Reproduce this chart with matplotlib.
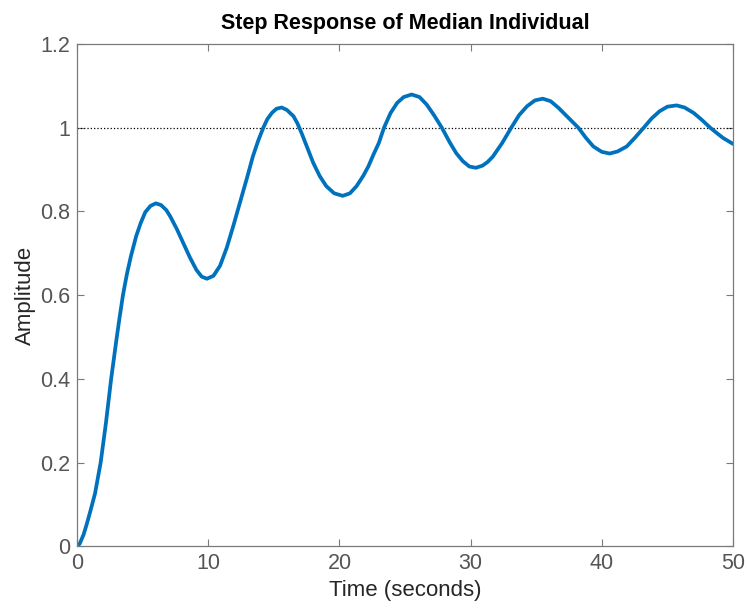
import matplotlib
matplotlib.use("Agg")
import matplotlib.pyplot as plt

# values (time in s, amplitude)
t = [0.0, 0.2, 0.5, 0.75, 1.05, 1.37, 1.8, 2.2, 2.6, 3.0, 3.25, 3.5, 3.8,
     4.1, 4.5, 4.85, 5.2, 5.6, 6.0, 6.4, 6.8, 7.1, 7.6, 8.1, 8.6, 9.1, 9.5,
     9.9, 10.4, 10.9, 11.4, 11.9, 12.3, 12.7, 13.0, 13.4, 13.8, 14.2, 14.5,
     14.85, 15.2, 15.6, 16.0, 16.5, 16.8, 17.1, 17.5, 18.0, 18.5, 19.0, 19.6,
     20.25, 20.8, 21.3, 21.8, 22.2, 22.6, 23.0, 23.4, 23.9, 24.4, 24.9, 25.5,
     26.1, 26.65, 27.2, 27.8, 28.4, 28.9, 29.4, 29.9, 30.4, 30.9, 31.3, 31.7,
     32.4, 33.1, 33.7, 34.3, 34.9, 35.5, 36.1, 36.7, 37.4, 38.2, 38.8, 39.35,
     40.0, 40.6, 41.2, 41.9, 42.5, 43.2, 43.8, 44.4, 45.0, 45.7, 46.3, 47.0,
     47.6, 48.25, 48.8, 49.25, 50.0]
amp = [0.0, 0.006, 0.028, 0.054, 0.088, 0.126, 0.2, 0.294, 0.4, 0.493, 0.548,
       0.6, 0.65, 0.692, 0.74, 0.772, 0.798, 0.813, 0.819, 0.815, 0.803,
       0.788, 0.758, 0.724, 0.69, 0.66, 0.644, 0.639, 0.646, 0.67, 0.712,
       0.764, 0.808, 0.852, 0.885, 0.931, 0.968, 1.0, 1.02, 1.035, 1.045,
       1.048, 1.042, 1.027, 1.01, 0.988, 0.956, 0.916, 0.884, 0.86, 0.843,
       0.837, 0.843, 0.86, 0.884, 0.907, 0.936, 0.963, 1.0, 1.035, 1.059,
       1.073, 1.079, 1.073, 1.055, 1.03, 1.0, 0.965, 0.939, 0.92, 0.907,
       0.904, 0.909, 0.918, 0.931, 0.963, 1.0, 1.03, 1.051, 1.065, 1.069,
       1.063, 1.047, 1.025, 1.0, 0.975, 0.955, 0.942, 0.938, 0.943, 0.955,
       0.975, 1.0, 1.022, 1.039, 1.05, 1.053, 1.048, 1.035, 1.019, 1.0, 0.986,
       0.975, 0.961]

xticks = [0, 10, 20, 30, 40, 50]
yticks = [0, 0.2, 0.4, 0.6, 0.8, 1.0, 1.2]
ytick_labels = ["0", "0.2", "0.4", "0.6", "0.8", "1", "1.2"]

plt.rcParams['font.family'] = ['Liberation Sans', 'DejaVu Sans']

fig = plt.figure(figsize=(7.48, 6.09), dpi=100)
ax = fig.add_axes([0.103, 0.103, 0.877, 0.825])

ax.plot([0, 50], [1, 1], color='black', linestyle=':', linewidth=0.9)
ax.plot(t, amp, color='#0072BD', linewidth=2.7, solid_capstyle='round',
        solid_joinstyle='round')

ax.set_xlim(0, 50)
ax.set_ylim(0, 1.2)
ax.set_xticks(xticks)
ax.set_yticks(yticks)
ax.set_yticklabels(ytick_labels)
ax.tick_params(direction='in', top=True, right=True, length=5, width=0.8,
               colors='#7a7a7a', labelsize=15.5, labelcolor='#555555', pad=5)
for s in ax.spines.values():
    s.set_color('#7a7a7a')
    s.set_linewidth(0.9)

ax.set_xlabel('Time (seconds)', fontsize=16, color='#262626', labelpad=4)
ax.set_ylabel('Amplitude', fontsize=16, color='#262626', labelpad=3)
ax.set_title('Step Response of Median Individual', fontsize=15.5,
             fontweight='bold', color='black', pad=11)

fig.savefig('out.png', dpi=100, facecolor='white')
